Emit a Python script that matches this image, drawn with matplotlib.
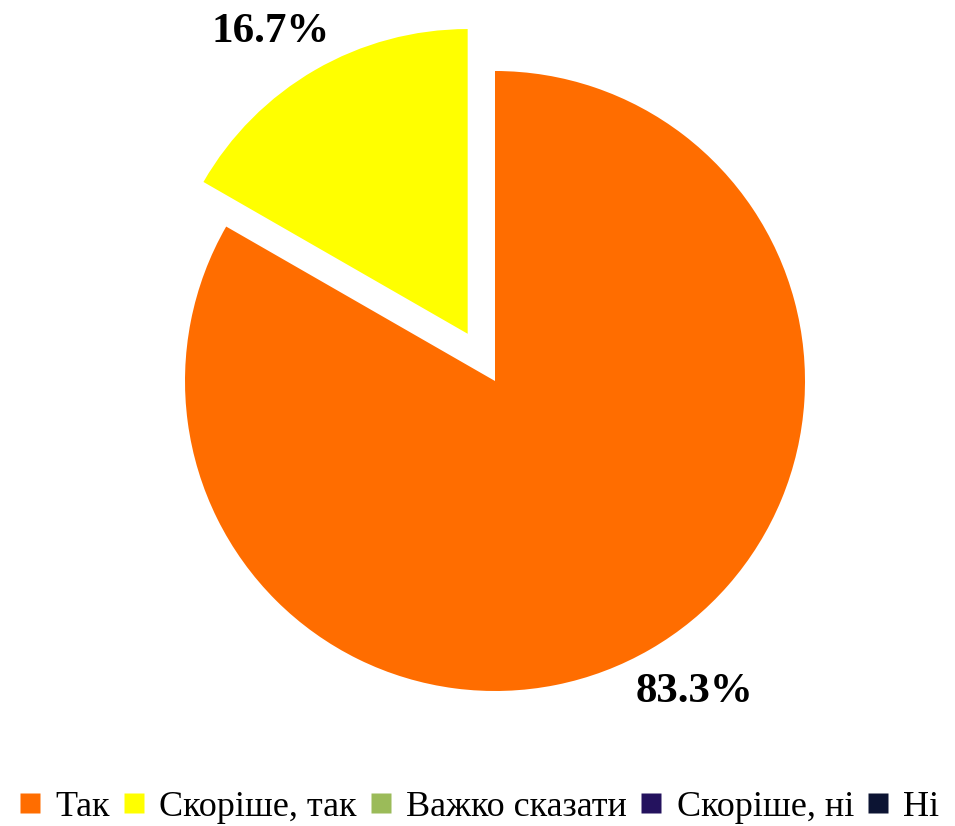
import matplotlib.pyplot as plt
from matplotlib.lines import Line2D

# survey answers and their shares (percent)
labels = ['Так', 'Скоріше, так', 'Важко сказати', 'Скоріше, ні', 'Ні']
shares = [83.3, 16.7, 0, 0, 0]
colors = ['#FF6D00', '#FFFF00', '#9BBB59', '#24125E', '#0C1433']
explode = [0, 0.176, 0, 0, 0]

plt.rcParams['font.family'] = ['Liberation Serif', 'DejaVu Serif']

fig = plt.figure(figsize=(9.55, 8.26), dpi=100)
ax = fig.add_axes([30 / 955, 42 / 826, 930 / 955, 806 / 826])

wedges, texts, autotexts = ax.pie(
    shares, colors=colors, explode=explode, startangle=90, counterclock=False,
    autopct=lambda p: f'{p:.1f}%' if p > 0 else '', pctdistance=1.17,
    wedgeprops=dict(linewidth=0))
# the detached slice is drawn a little smaller
wedges[1].set_radius(0.983)

# percentage labels sit slightly off the default spots
nudge = [(0.056, 0.008), (-0.048, -0.04)]
for t, (dx, dy) in zip(autotexts, nudge):
    t.set_fontsize(31)
    t.set_fontweight('bold')
    x, y = t.get_position()
    t.set_position((x + dx, y + dy))

ax.set_xlim(-1.5, 1.5)
ax.set_ylim(-1.3, 1.3)
ax.set_aspect('equal')
ax.axis('off')

handles = [Line2D([], [], marker='s', linestyle='none', markersize=15,
                  markerfacecolor=c, markeredgecolor='none') for c in colors]
fig.legend(handles, labels, loc='center', bbox_to_anchor=(0.5, 19 / 826), ncol=5,
           frameon=False, fontsize=26, handlelength=0.8, handletextpad=0.3,
           columnspacing=0.27, borderpad=0)

fig.savefig('out.png', dpi=100)
